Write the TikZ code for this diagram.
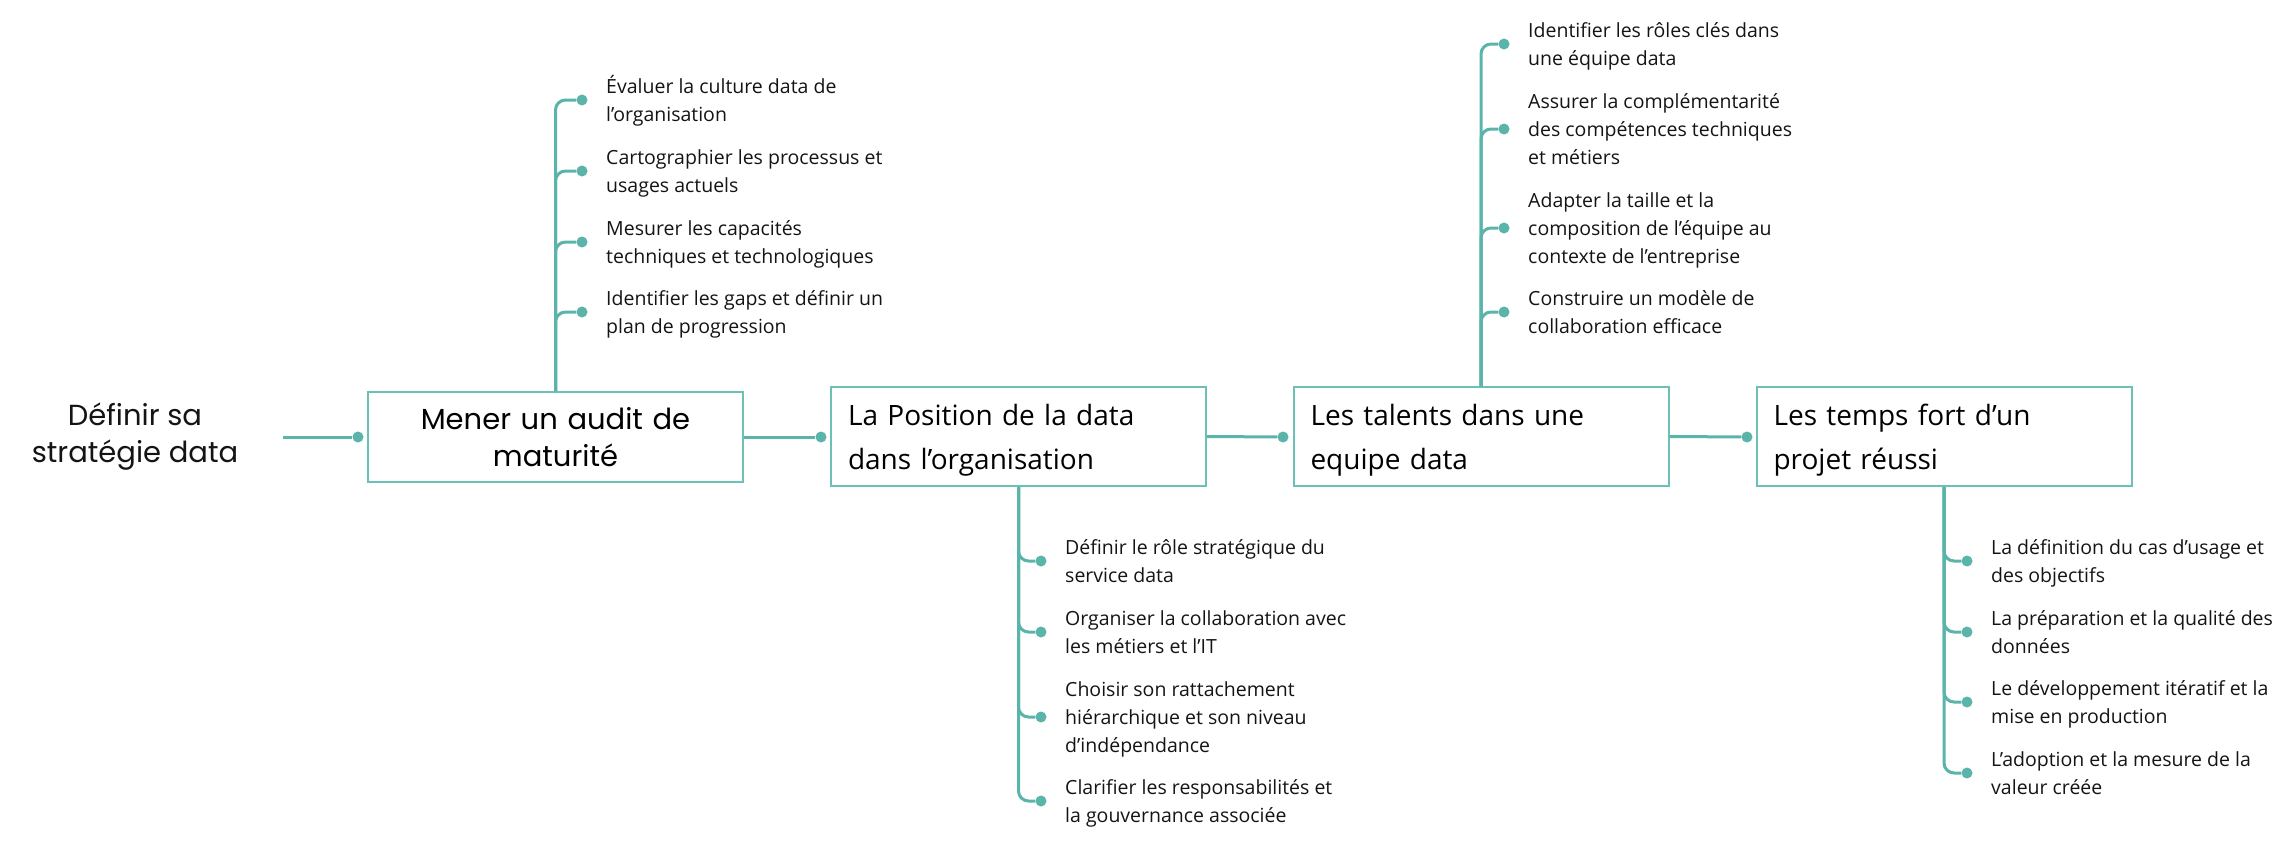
\documentclass[tikz,border=0pt]{standalone}
\usepackage{fontspec}
\setmainfont{Open Sans}
\newfontfamily\titlefont{Poppins}
\definecolor{tealline}{HTML}{5AB4A9}
\definecolor{tealbox}{HTML}{6CC1B6}
\newcommand\mmbranch[6]{%
  \node[dotn] (d#2) at (#3,#4) {};
  \draw[conn] (#1) |- (d#2);
  \node[itemtxt] (t#2) at ({#3+24},{#4+(#5-1)*14+7}) {#6};
}
\begin{document}
\begin{tikzpicture}[x=1pt,y=-1pt,
  conn/.style={draw=tealline,line width=3pt,rounded corners=10pt},
  dotn/.style={circle,fill=tealline,inner sep=0pt,minimum size=11pt},
  itemtxt/.style={anchor=base west,align=left,inner sep=0pt,font=\fontsize{19.5}{28}\selectfont,text=black!92},
  boxl/.style={draw=tealbox,line width=2pt,fill=white,minimum width=375pt,minimum height=99pt,text width=341pt,inner xsep=17pt,inner ysep=0pt,align=left,font=\fontsize{28}{44}\selectfont},
  boxc/.style={draw=tealbox,line width=2pt,fill=white,minimum width=375pt,minimum height=90pt,text width=341pt,inner xsep=17pt,inner ysep=0pt,align=center,font=\titlefont\fontsize{29}{37}\selectfont}
]
\useasboundingbox (0,0) rectangle (2294,846);

% root
\node[font=\titlefont\fontsize{29}{37}\selectfont,align=center,text=black!92] (root) at (135,437) {Définir sa\\stratégie data};
\coordinate (r0) at (283,437);

% main boxes
\node[boxc] (b1) at (555.5,437) {Mener un audit de\\maturité};
\node[boxl] (b2) at (1018.5,436.5) {\rule{0pt}{29pt}La Position de la data\\dans l’organisation};
\node[boxl] (b3) at (1481,436.5) {\rule{0pt}{29pt}Les talents dans une\\equipe data};
\node[boxl] (b4) at (1944,436.5) {\rule{0pt}{29pt}Les temps fort d’un\\projet réussi};

% entry dots
\node[dotn] (e1) at (358,437) {};
\node[dotn] (e2) at (821,437) {};
\node[dotn] (e3) at (1283,437) {};
\node[dotn] (e4) at (1747,437) {};

\draw[conn] (r0) -- (e1);
\draw[conn] (b1.east) -- (e2);
\draw[conn] (b2.east) -- (e3);
\draw[conn] (b3.east) -- (e4);

% branches of box 1
\mmbranch{b1.north}{11}{582}{100}{2}{Évaluer la culture data de\\l’organisation}
\mmbranch{b1.north}{12}{582}{171}{2}{Cartographier les processus et\\usages actuels}
\mmbranch{b1.north}{13}{582}{242}{2}{Mesurer les capacités\\techniques et technologiques}
\mmbranch{b1.north}{14}{582}{312}{2}{Identifier les gaps et définir un\\plan de progression}

% branches of box 2
\mmbranch{b2.south}{21}{1041}{561}{2}{Définir le rôle stratégique du\\service data}
\mmbranch{b2.south}{22}{1041}{632}{2}{Organiser la collaboration avec\\les métiers et l’IT}
\mmbranch{b2.south}{23}{1041}{717}{3}{Choisir son rattachement\\hiérarchique et son niveau\\d’indépendance}
\mmbranch{b2.south}{24}{1041}{801}{2}{Clarifier les responsabilités et\\la gouvernance associée}

% branches of box 3
\mmbranch{b3.north}{31}{1504}{44}{2}{Identifier les rôles clés dans\\une équipe data}
\mmbranch{b3.north}{32}{1504}{129}{3}{Assurer la complémentarité\\des compétences techniques\\et métiers}
\mmbranch{b3.north}{33}{1504}{228}{3}{Adapter la taille et la\\composition de l’équipe au\\contexte de l’entreprise}
\mmbranch{b3.north}{34}{1504}{312}{2}{Construire un modèle de\\collaboration efficace}

% branches of box 4
\mmbranch{b4.south}{41}{1967}{561}{2}{La définition du cas d’usage et\\des objectifs}
\mmbranch{b4.south}{42}{1967}{632}{2}{La préparation et la qualité des\\données}
\mmbranch{b4.south}{43}{1967}{702}{2}{Le développement itératif et la\\mise en production}
\mmbranch{b4.south}{44}{1967}{773}{2}{L’adoption et la mesure de la\\valeur créée}
\end{tikzpicture}
\end{document}
